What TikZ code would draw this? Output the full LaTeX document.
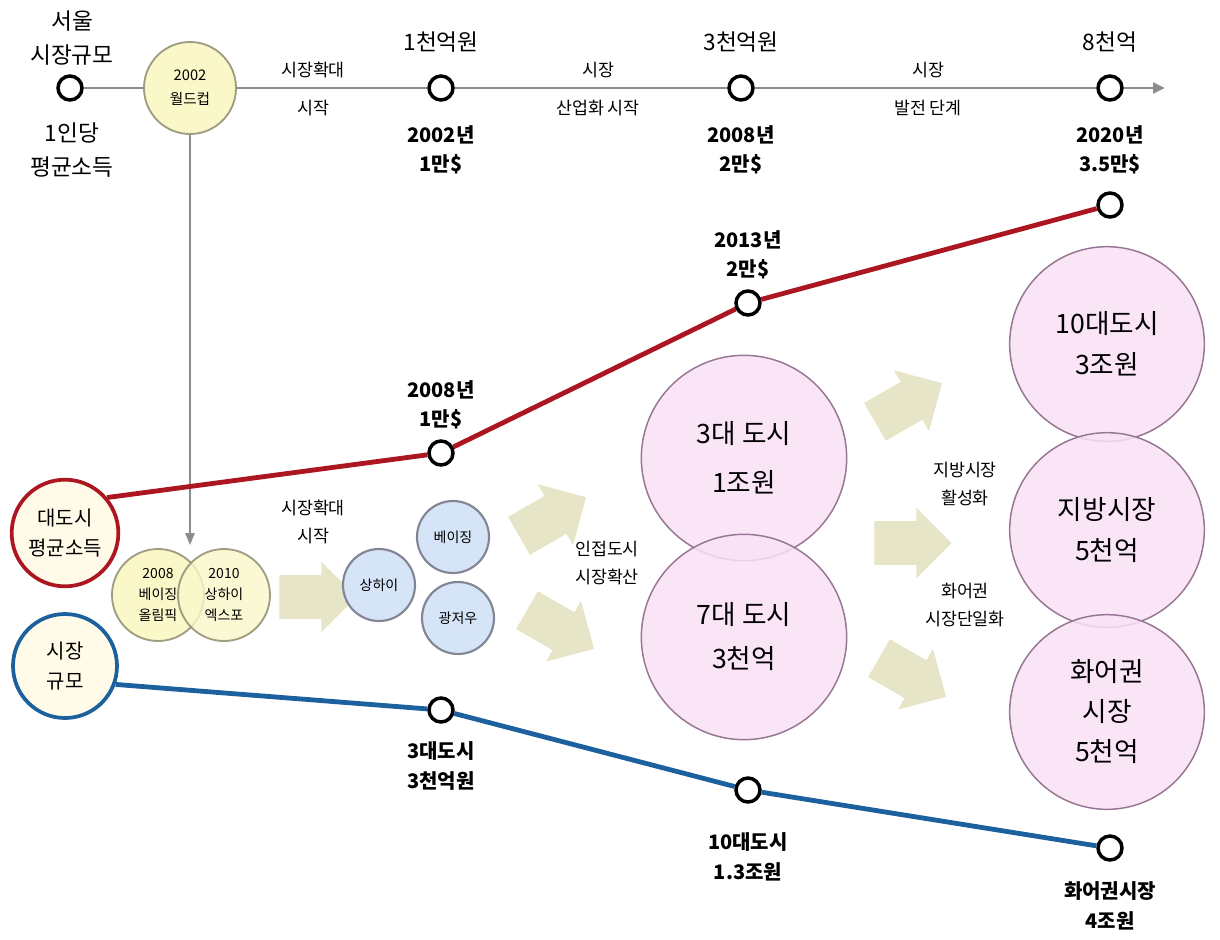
\documentclass[tikz,border=0pt]{standalone}
\usepackage{fontspec}
\setmainfont{Noto Sans CJK KR}
\usetikzlibrary{shapes.arrows,arrows.meta,backgrounds}

\definecolor{axisgrey}{RGB}{140,140,140}
\definecolor{incomered}{RGB}{172,22,32}
\definecolor{sizeblue}{RGB}{28,96,158}
\definecolor{evtfill}{RGB}{250,247,200}
\definecolor{evtdraw}{RGB}{160,158,130}
\definecolor{cityfill}{RGB}{214,228,247}
\definecolor{citydraw}{RGB}{130,134,148}
\definecolor{mktfill}{RGB}{249,224,246}
\definecolor{mktdraw}{RGB}{150,118,146}
\definecolor{keyfill}{RGB}{255,251,232}
\definecolor{arrowfill}{RGB}{231,229,200}

\tikzset{every picture/.style={line width=0.75pt},
  dot/.style={circle,draw=black,fill=white,line width=2.6pt,minimum size=18pt,inner sep=0pt},
  toplbl/.style={font=\fontsize{17}{25}\selectfont,align=center},
  yrlbl/.style={font=\bfseries\fontsize{15}{22}\selectfont,align=center},
  stagelbl/.style={font=\fontsize{13}{16}\selectfont},
  flowlbl/.style={font=\fontsize{13}{21}\selectfont,align=center},
  evt/.style={circle,draw=evtdraw,fill=evtfill,line width=1.4pt,minimum size=69pt,inner sep=0pt,align=center,font=\fontsize{10.5}{16}\selectfont},
  city/.style={circle,draw=citydraw,fill=cityfill,line width=1.6pt,minimum size=54pt,inner sep=0pt,font=\fontsize{10.5}{13}\selectfont},
  mkt/.style={circle,draw=mktdraw,fill=mktfill,fill opacity=0.85,text opacity=1,line width=1.1pt,inner sep=0pt,align=center},
  keycircle/.style={circle,fill=keyfill,line width=2.8pt,minimum size=78pt,inner sep=0pt,align=center,font=\fontsize{15}{23}\selectfont},
  bigarrow/.style={single arrow,fill=arrowfill,draw=none,minimum height=58pt,inner xsep=0pt,inner ysep=16pt,single arrow head extend=10pt}
}

\begin{document}
\begin{tikzpicture}[x=0.75pt,y=0.75pt,yscale=-1,xscale=1]
\useasboundingbox (0,0) rectangle (1220,939);

%Top axis: market size of Seoul
\node[dot] (seoul) at (70,88) {};
\node[toplbl] (seoul-t) at (72,38) {서울\\시장규모};
\node[toplbl] (seoul-b) at (72,150) {1인당\\평균소득};
\node[evt,font=\fontsize{11}{18}\selectfont] (wc) at (190,88) {2002\\월드컵};
\node[dot] (m1) at (441,88) {};
\node[toplbl] (m1-t) at (441,42) {1천억원};
\node[yrlbl] (m1-b) at (441,150) {2002년\\1만\$};
\node[dot] (m3) at (741,88) {};
\node[toplbl] (m3-t) at (741,42) {3천억원};
\node[yrlbl] (m3-b) at (741,150) {2008년\\2만\$};
\node[dot] (m8) at (1110,88) {};
\node[toplbl] (m8-t) at (1110,42) {8천억};
\node[yrlbl] (m8-b) at (1110,150) {2020년\\3.5만\$};
\coordinate (axisend) at (1165,88);

% Text Node
\node[stagelbl] (sa-t) at (313,70) {시장확대};
\node[stagelbl] (sa-b) at (313,108) {시작};
\node[stagelbl] (sb-t) at (598,70) {시장};
\node[stagelbl] (sb-b) at (598,108) {산업화 시작};
\node[stagelbl] (sc-t) at (928,70) {시장};
\node[stagelbl] (sc-b) at (928,108) {발전 단계};

%Key circles
\node[keycircle,draw=incomered,minimum size=80pt] (income) at (65,533) {대도시\\평균소득};
\node[keycircle,draw=sizeblue] (msize) at (65,666) {시장\\규모};

%Income line
\node[dot] (r1) at (441,453) {};
\node[yrlbl] (r1-t) at (441,405) {2008년\\1만\$};
\node[dot] (r2) at (748,303) {};
\node[yrlbl] (r2-t) at (748,255) {2013년\\2만\$};
\node[dot] (r3) at (1110,205) {};

%Market size line
\node[dot] (b1) at (441,710) {};
\node[yrlbl] (b1-b) at (441,766) {3대도시\\3천억원};
\node[dot] (b2) at (748,790) {};
\node[yrlbl] (b2-b) at (748,857) {10대도시\\1.3조원};
\node[dot] (b3) at (1110,848) {};
\node[yrlbl] (b3-b) at (1110,906) {화어권시장\\4조원};

%Events
\node[evt] (oly) at (158,595) {2008\\베이징\\올림픽};
\node[evt,fill opacity=0.8,text opacity=1] (expo) at (224,595) {2010\\상하이\\엑스포};
\coordinate (wcend) at (190,545);
\node[bigarrow] (arr-a) at (307,597) {};
\node[flowlbl] (arr-a-t) at (313,522) {시장확대\\시작};

%First cities
\node[city] (sh) at (379,585) {상하이};
\node[city] (bj) at (453,537) {베이징};
\node[city] (gz) at (458,618) {광저우};
\node[bigarrow,rotate=30] (arr-up) at (543,522) {};
\node[bigarrow,rotate=-30] (arr-dn) at (551,624) {};
\node[flowlbl] (arr-b-t) at (607,563) {인접도시\\시장확산};

%Market circles
\node[mkt,minimum size=154pt,font=\fontsize{20}{37}\selectfont] (c3) at (744,458) {3대 도시\\1조원};
\node[mkt,minimum size=154pt,font=\fontsize{20}{33}\selectfont] (c7) at (744,637) {7대 도시\\3천억};
\node[bigarrow,rotate=30] (arr-c1) at (899,408) {};
\node[bigarrow] (arr-c2) at (902,543) {};
\node[bigarrow,rotate=-30] (arr-c3) at (903,672) {};
\node[flowlbl] (arr-c-t1) at (965,484) {지방시장\\활성화};
\node[flowlbl] (arr-c-t2) at (965,605) {화어권\\시장단일화};
\node[mkt,minimum size=146pt,font=\fontsize{20}{31}\selectfont] (c10) at (1107,344) {10대도시\\3조원};
\node[mkt,minimum size=146pt,font=\fontsize{20}{31}\selectfont] (cloc) at (1107,530) {지방시장\\5천억};
\node[mkt,minimum size=146pt,font=\fontsize{20}{30}\selectfont] (chwa) at (1107,712) {화어권\\시장\\5천억};

%Connectors
\begin{pgfonlayer}{background}
\draw[axisgrey,line width=2.2pt,-{Triangle[length=9pt,width=8pt]}] (seoul) -- (m1) -- (m3) -- (m8) -- (axisend);
\draw[axisgrey,line width=1.3pt,-{Triangle[length=9pt,width=7pt]}] (wc) -- (wcend);
\draw[incomered,line width=3.6pt] (income.40) -- (r1) -- (r2) -- (r3);
\draw[sizeblue,line width=3.6pt] (msize.-20) -- (b1) -- (b2) -- (b3);
\end{pgfonlayer}

\end{tikzpicture}
\end{document}
